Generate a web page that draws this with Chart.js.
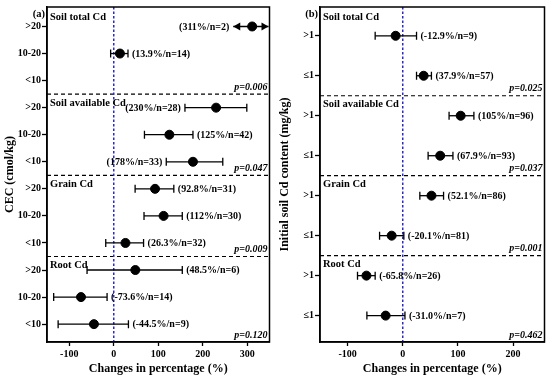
<!DOCTYPE html>
<html>
<head>
<meta charset="utf-8">
<script src="https://cdn.jsdelivr.net/npm/chart.js@4/dist/chart.umd.min.js"></script>
<style>
  body { margin: 0; background: #fff; }
  canvas { position: absolute; top: 0; }
</style>
</head>
<body>
<canvas id="chart-a" width="275" height="379" style="left:0"></canvas>
<canvas id="chart-b" width="275" height="379" style="left:275px"></canvas>
<script>
// ---- panel (a): CEC ----
var groups = ['Soil total Cd', 'Soil available Cd', 'Grain Cd', 'Root Cd'];
var levelsA = ['>20', '10-20', '<10'];
var meanA = [311, 13.9, null, 230, 125, 178, 92.8, 112, 26.3, 48.5, -73.6, -44.5];
var lowA  = [282, -7, null, 160, 69, 118, 48, 68, -18, -60, -135, -125];
var highA = [350, 32, null, 299, 178, 245, 135, 154, 67, 154, -15, 33];
var nA    = [2, 14, null, 28, 42, 33, 31, 30, 32, 6, 14, 9];
var sideA = ['L', 'R', null, 'L', 'R', 'L', 'R', 'R', 'R', 'R', 'R', 'R'];
var arrowA = [true, false, false, false, false, false, false, false, false, false, false, false];
var pA = ['0.006', '0.047', '0.009', '0.120'];
var xTicksA = [-100, 0, 100, 200, 300];

// ---- panel (b): initial soil Cd ----
var levelsB = ['>1', '\u22641'];
var meanB = [-12.9, 37.9, 105, 67.9, 52.1, -20.1, -65.8, -31.0];
var lowB  = [-50, 25, 84, 46, 31, -42, -82, -65];
var highB = [25, 52, 129, 91, 74, 2, -50, 4];
var nB    = [9, 57, 96, 93, 86, 81, 26, 7];
var pB = ['0.025', '0.037', '0.001', '0.462'];
var xTicksB = [-100, 0, 100, 200];

var SERIF = '"Liberation Serif", "Times New Roman", serif';

function pctText(v) {
  return Math.abs(v) >= 100 ? v.toFixed(0) : v.toFixed(1);
}

// whiskers, labels, separators, group names, p values
var forestPlugin = {
  id: 'forest',
  beforeDatasetsDraw: function (chart) {
    var o = chart.options.plugins.forest;
    var ctx = chart.ctx, xs = chart.scales.x, ys = chart.scales.y, a = chart.chartArea;
    ctx.save();
    // group separators
    ctx.strokeStyle = '#000';
    ctx.lineWidth = 1.2;
    ctx.setLineDash([4, 3]);
    for (var g = 1; g < o.groups.length; g++) {
      var yy = ys.getPixelForValue(g * o.per - 0.5);
      ctx.beginPath(); ctx.moveTo(a.left, yy); ctx.lineTo(a.right, yy); ctx.stroke();
    }
    // zero line
    ctx.strokeStyle = '#2a2ac8';
    ctx.lineWidth = 1.5;
    ctx.setLineDash([2.5, 2]);
    var x0 = xs.getPixelForValue(0);
    ctx.beginPath(); ctx.moveTo(x0, a.top); ctx.lineTo(x0, a.bottom); ctx.stroke();
    ctx.setLineDash([]);
    // whiskers
    ctx.strokeStyle = '#000';
    ctx.fillStyle = '#000';
    ctx.lineWidth = 1.3;
    o.mean.forEach(function (m, i) {
      if (m === null) return;
      var y = ys.getPixelForValue(i);
      var xl = xs.getPixelForValue(o.low[i]), xh = xs.getPixelForValue(o.high[i]);
      var arrow = o.arrow && o.arrow[i];
      if (arrow) { xl = xl - 6; xh = xh - 1; }
      ctx.beginPath(); ctx.moveTo(xl, y); ctx.lineTo(xh, y); ctx.stroke();
      if (arrow) {
        ctx.beginPath(); ctx.moveTo(xl, y); ctx.lineTo(xl + 7, y - 4); ctx.lineTo(xl + 7, y + 4); ctx.closePath(); ctx.fill();
        ctx.beginPath(); ctx.moveTo(xh, y); ctx.lineTo(xh - 7, y - 4); ctx.lineTo(xh - 7, y + 4); ctx.closePath(); ctx.fill();
      } else {
        ctx.beginPath();
        ctx.moveTo(xl, y - 4); ctx.lineTo(xl, y + 4);
        ctx.moveTo(xh, y - 4); ctx.lineTo(xh, y + 4);
        ctx.stroke();
      }
      // label
      ctx.font = 'bold 10px ' + SERIF;
      ctx.textBaseline = 'middle';
      var txt = '(' + pctText(m) + '%/n=' + o.n[i] + ')';
      if (o.side && o.side[i] === 'L') {
        ctx.textAlign = 'right';
        ctx.fillText(txt, xl - 4, y + 0.5);
      } else {
        ctx.textAlign = 'left';
        ctx.fillText(txt, xh + 4, y + 0.5);
      }
    });
    // group names & p values
    o.groups.forEach(function (name, g) {
      var top = g === 0 ? a.top + 1 : ys.getPixelForValue(g * o.per - 0.5);
      var bot = g === o.groups.length - 1 ? a.bottom : ys.getPixelForValue((g + 1) * o.per - 0.5);
      ctx.font = 'bold 10.5px ' + SERIF;
      ctx.textAlign = 'left';
      ctx.textBaseline = 'middle';
      ctx.fillText(name, a.left + 3, top + 9);
      ctx.font = 'italic bold 10px ' + SERIF;
      ctx.textAlign = 'right';
      ctx.fillText('p=' + o.p[g], a.right - 2, bot - 7);
    });
    // panel letter
    ctx.font = 'bold 10.5px ' + SERIF;
    ctx.textAlign = 'right';
    ctx.fillText(o.letter, a.left - 2, a.top + 7);
    // box
    ctx.lineWidth = 1.5;
    ctx.strokeRect(a.left, a.top, a.right - a.left, a.bottom - a.top);
    ctx.restore();
  }
};

function makePanel(id, levels, mean, low, high, n, side, arrow, p, xmax, xTicks, yTitle, axisW, padRight) {
  var rows = [];
  groups.forEach(function () { levels.forEach(function (l) { rows.push(l); }); });
  var pts = [];
  mean.forEach(function (m, i) { if (m !== null) pts.push({ x: m, y: i }); });
  return new Chart(document.getElementById(id), {
    type: 'scatter',
    data: {
      datasets: [{
        data: pts,
        backgroundColor: '#000',
        borderColor: '#000',
        pointRadius: 4.5,
        pointHoverRadius: 4.5
      }]
    },
    options: {
      responsive: false,
      animation: false,
      layout: { padding: { top: 4, right: padRight, left: 0, bottom: 0 } },
      plugins: {
        legend: { display: false },
        tooltip: { enabled: false },
        forest: {
          groups: groups, per: levels.length, mean: mean, low: low, high: high,
          n: n, side: side, arrow: arrow, p: p, letter: id === 'chart-a' ? '(a)' : '(b)'
        }
      },
      scales: {
        x: {
          type: 'linear', min: -150, max: xmax,
          afterBuildTicks: function (s) { s.ticks = xTicks.map(function (v) { return { value: v }; }); },
          afterFit: function (s) { s.height = 37; },
          ticks: { color: '#000', padding: 2, autoSkip: false, font: { family: SERIF, weight: 'bold', size: 10 } },
          grid: { drawOnChartArea: false, drawTicks: true, tickLength: 4, color: '#000', tickWidth: 1.3 },
          border: { color: '#000', width: 1.5 },
          title: { display: true, text: 'Changes in percentage (%)', color: '#000', padding: { top: 2, bottom: 3 },
                   font: { family: SERIF, weight: 'bold', size: 12 } }
        },
        y: {
          type: 'linear', reverse: true, min: -0.72, max: rows.length - 0.34,
          afterBuildTicks: function (s) { s.ticks = rows.map(function (r, i) { return { value: i }; }); },
          afterFit: function (s) { s.width = axisW; },
          ticks: { color: '#000', padding: 1, autoSkip: false,
                   callback: function (v) { return rows[v]; },
                   font: { family: SERIF, weight: 'bold', size: 10 } },
          grid: { drawOnChartArea: false, drawTicks: true, tickLength: 5, color: '#000', tickWidth: 1.3 },
          border: { color: '#000', width: 1.5 },
          title: { display: true, text: yTitle, color: '#000', padding: { top: 3, bottom: 2 },
                   font: { family: SERIF, weight: 'bold', size: 12 } }
        }
      }
    },
    plugins: [forestPlugin]
  });
}

makePanel('chart-a', levelsA, meanA, lowA, highA, nA, sideA, arrowA, pA, 350, xTicksA, 'CEC (cmol/kg)', 47, 5);
makePanel('chart-b', levelsB, meanB, lowB, highB, nB, null, null, pB, 257, xTicksB, 'Initial soil Cd content (mg/kg)', 45, 2);
</script>
</body>
</html>
